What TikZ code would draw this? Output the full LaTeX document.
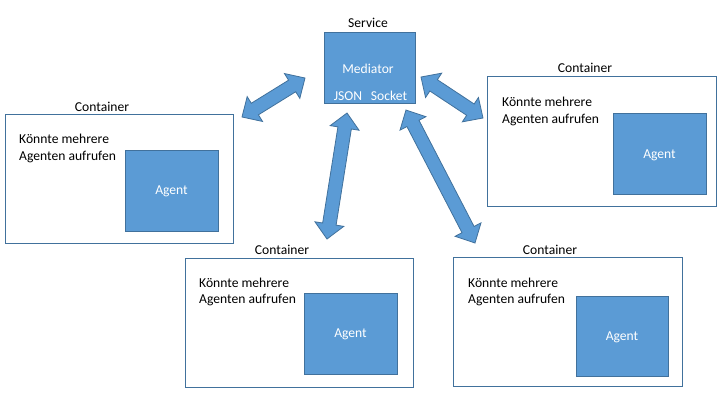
\documentclass[tikz,border=0pt]{standalone}
\usepackage{fontspec}
\setmainfont{Carlito}
\usetikzlibrary{shapes.arrows,calc}
\definecolor{ofblue}{HTML}{5B9BD5}
\definecolor{ofline}{HTML}{41719C}
\newcommand\blockarrow[3]{%
  \path let \p1=(#2), \p2=(#3), \n1={atan2(\y2-\y1,\x2-\x1)}, \n2={veclen(\x2-\x1,\y2-\y1)} in
    node[dblarrow, rotate=\n1, minimum height=\n2] (#1) at ($(#2)!0.5!(#3)$) {};}
\begin{document}
\begin{tikzpicture}[x=1pt,y=-1pt,
  every node/.style={font=\fontsize{13.6}{16.8}\selectfont},
  container/.style={draw=ofline, line width=0.8pt, fill=white, inner sep=0pt},
  bluebox/.style={draw=ofline, line width=0.8pt, fill=ofblue, inner sep=0pt},
  wlabel/.style={text=white, inner sep=0pt},
  lbl/.style={inner sep=0pt, text=black},
  desc/.style={inner sep=0pt, align=left, anchor=west},
  dblarrow/.style={double arrow, draw=ofline, line width=0.8pt, fill=ofblue,
    inner sep=6.4pt, double arrow head extend=7.8pt, double arrow tip angle=88,
    minimum width=28pt, shape border uses incircle=false}]
\useasboundingbox (0,0) rectangle (720,405);
% Service
\node[bluebox, minimum width=91pt, minimum height=71pt] (svc) at (369.5,67.5) {};
\node[lbl] (svcl) at (368,23) {Service};
\node[wlabel] (med) at (368,69) {Mediator};
\node[wlabel] (json) at (348,96) {JSON};
\node[wlabel] (sock) at (389,96) {Socket};
% Containers
\node[container, minimum width=228pt, minimum height=129pt] (c1) at (119,178.5) {};
\node[lbl] (c1l) at (102,107) {Container};
\node[desc] (c1t) at (19,148.5) {Könnte mehrere\\Agenten aufrufen};
\node[bluebox, minimum width=93pt, minimum height=81pt] (a1) at (171.5,190.5) {};
\node[wlabel] (a1l) at (171.5,191) {Agent};

\node[container, minimum width=229pt, minimum height=130pt] (c2) at (601.5,141) {};
\node[lbl] (c2l) at (585,68) {Container};
\node[desc] (c2t) at (502,111.5) {Könnte mehrere\\Agenten aufrufen};
\node[bluebox, minimum width=93pt, minimum height=81pt] (a2) at (659.5,153.5) {};
\node[wlabel] (a2l) at (659.5,155) {Agent};

\node[container, minimum width=228pt, minimum height=129pt] (c3) at (299,322.5) {};
\node[lbl] (c3l) at (282,250) {Container};
\node[desc] (c3t) at (199,292) {Könnte mehrere\\Agenten aufrufen};
\node[bluebox, minimum width=93pt, minimum height=81pt] (a3) at (350.5,333.5) {};
\node[wlabel] (a3l) at (350.5,334) {Agent};

\node[container, minimum width=229pt, minimum height=129pt] (c4) at (567.5,321.5) {};
\node[lbl] (c4l) at (550,250) {Container};
\node[desc] (c4t) at (468,292) {Könnte mehrere\\Agenten aufrufen};
\node[bluebox, minimum width=92pt, minimum height=80pt] (a4) at (622,336) {};
\node[wlabel] (a4l) at (622,337) {Agent};
% Arrow end points
\coordinate (e1a) at (305,78);  \coordinate (e1b) at (242,117);
\coordinate (e2a) at (421,77);  \coordinate (e2b) at (483,118);
\coordinate (e3a) at (347,113); \coordinate (e3b) at (327,239);
\coordinate (e4a) at (406,110); \coordinate (e4b) at (475,243);
\blockarrow{ar1}{e1a}{e1b}
\blockarrow{ar2}{e2a}{e2b}
\blockarrow{ar3}{e3a}{e3b}
\blockarrow{ar4}{e4a}{e4b}
\end{tikzpicture}
\end{document}
